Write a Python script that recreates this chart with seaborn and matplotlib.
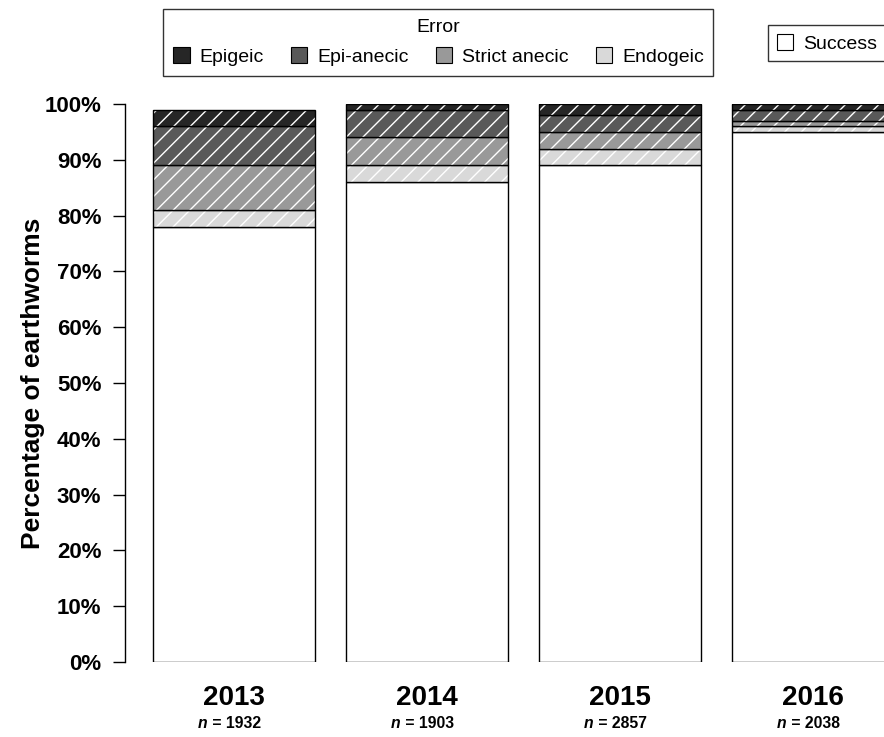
import pandas as pd
import seaborn as sns
import matplotlib.pyplot as plt
from matplotlib.patches import Patch
from matplotlib.transforms import blended_transform_factory, offset_copy

years = ['2013', '2014', '2015', '2016']
n_worms = [1932, 1903, 2857, 2038]

# percentages per year, bottom to top
success = [78, 86, 89, 95]
endogeic = [3, 3, 3, 1]
strict_anecic = [8, 5, 3, 1]
epi_anecic = [7, 5, 3, 2]
epigeic = [3, 1, 2, 1]

layers = ['Success', 'Endogeic', 'Strict anecic', 'Epi-anecic', 'Epigeic']
colours = {'Success': 'white', 'Endogeic': '#d9d9d9', 'Strict anecic': '#999999',
           'Epi-anecic': '#595959', 'Epigeic': '#262626'}

df = pd.DataFrame({'year': years, 'Success': success, 'Endogeic': endogeic,
                   'Strict anecic': strict_anecic, 'Epi-anecic': epi_anecic,
                   'Epigeic': epigeic})

sns.set_style('white')
plt.rcParams['font.family'] = ['Liberation Sans', 'DejaVu Sans']
plt.rcParams['hatch.linewidth'] = 1.0
plt.rcParams['text.color'] = 'black'
plt.rcParams['axes.labelcolor'] = 'black'
plt.rcParams['ytick.color'] = 'black'

fig = plt.figure(figsize=(8.84, 7.37), dpi=100)
ax = fig.add_axes([0.1414, 0.1018, 0.8586, 0.7571])

bottom = [0] * len(years)
for layer in layers:
    hatch = None if layer == 'Success' else '//'
    # fill + white hatch lines
    sns.barplot(data=df, x='year', y=layer, bottom=bottom, color=colours[layer],
                width=0.84, saturation=1, ax=ax, hatch=hatch, edgecolor='white',
                linewidth=0)
    # black outline on top
    sns.barplot(data=df, x='year', y=layer, bottom=bottom, color='black', fill=False,
                width=0.84, ax=ax, edgecolor='black', linewidth=1.0)
    bottom = [b + v for b, v in zip(bottom, df[layer])]

ax.set_ylim(0, 100)
ax.set_xlim(-0.565, 3.368)
ax.set_yticks(range(0, 101, 10))
ax.set_yticklabels([f'{v}%' for v in range(0, 101, 10)], fontsize=16, fontweight='bold')
ax.tick_params(axis='y', direction='out', length=9, width=1, color='black', left=True, pad=8)
ax.set_ylabel('Percentage of earthworms', fontsize=19, fontweight='bold', labelpad=0)
ax.set_xlabel('')
ax.set_xticks([])
for side in ['top', 'right', 'bottom']:
    ax.spines[side].set_visible(False)
ax.spines['left'].set_color('black')
ax.spines['left'].set_linewidth(1)

trans = blended_transform_factory(ax.transData, ax.transAxes)
n_trans = offset_copy(trans, fig=fig, x=-19, y=0, units='points')
for i, (yr, n) in enumerate(zip(years, n_worms)):
    ax.text(i, -0.065, yr, transform=trans, ha='center', va='center',
            fontsize=20, fontweight='bold')
    ax.text(i, -0.11, 'n', transform=n_trans, ha='right', va='center',
            fontsize=11.3, fontweight='bold', fontstyle='italic')
    ax.text(i, -0.11, f' = {n}', transform=n_trans, ha='left', va='center',
            fontsize=11.3, fontweight='bold')

err_names = ['Epigeic', 'Epi-anecic', 'Strict anecic', 'Endogeic']
err_handles = [Patch(facecolor=colours[e], edgecolor='black', linewidth=0.8) for e in err_names]
leg1 = fig.legend(err_handles, err_names, title='Error', ncol=4, loc='center',
                  bbox_to_anchor=(0.496, 0.9425), fontsize=14, title_fontsize=14,
                  frameon=True, fancybox=False, edgecolor='black', handlelength=0.85,
                  handleheight=0.85, handletextpad=0.5, columnspacing=1.4,
                  borderpad=0.5, labelspacing=0.6, borderaxespad=0)
leg1.get_frame().set_linewidth(1)

leg2 = fig.legend([Patch(facecolor='white', edgecolor='black', linewidth=0.8)], ['Success'],
                  loc='center left', bbox_to_anchor=(0.869, 0.941), fontsize=14,
                  frameon=True, fancybox=False, edgecolor='black', handlelength=0.85,
                  handleheight=0.85, handletextpad=0.5, borderpad=0.45, borderaxespad=0)
leg2.get_frame().set_linewidth(1)

fig.savefig('out.png', dpi=100)
